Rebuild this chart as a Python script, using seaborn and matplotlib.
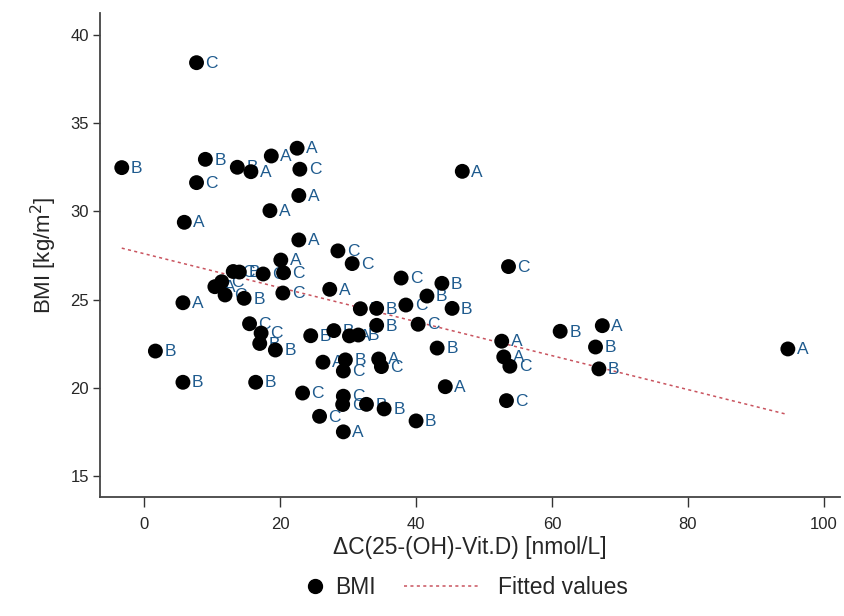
import numpy as np
import pandas as pd
import matplotlib
matplotlib.use("Agg")
import matplotlib.pyplot as plt
from matplotlib.lines import Line2D
import seaborn as sns

# Data
delta_vitd = [-3.3, 7.7, 9.0, 7.7, 13.7, 15.7, 18.7, 22.5, 22.9, 22.75,
              18.5, 5.9, 22.75, 46.8, 28.5, 30.6, 20.1, 13.1, 14.0, 17.5,
              20.5, 10.4, 11.4, 11.9, 14.7, 20.4, 5.7, 27.3, 37.8, 43.8,
              41.6, 45.3, 38.5, 31.8, 34.2, 34.2, 40.3, 43.1, 44.3, 40.0,
              35.3, 32.7, 29.3, 29.2, 25.8, 29.3, 23.3, 16.4, 5.7, 1.65,
              15.5, 17.2, 17.0, 19.3, 24.5, 27.9, 30.2, 31.5, 26.3, 29.6,
              29.3, 34.5, 34.9, 53.6, 52.6, 52.9, 53.8, 53.3, 61.2, 67.4,
              66.4, 66.9, 94.7]
bmi = [32.48, 38.43, 32.95, 31.63, 32.5, 32.25, 33.14, 33.58, 32.39, 30.9,
       30.04, 29.38, 28.38, 32.27, 27.76, 27.04, 27.24, 26.59, 26.56, 26.45,
       26.52, 25.73, 26.01, 25.26, 25.07, 25.37, 24.82, 25.58, 26.22, 25.92,
       25.2, 24.5, 24.69, 24.48, 24.5, 23.54, 23.6, 22.25, 20.06, 18.12,
       18.8, 19.06, 19.52, 19.05, 18.38, 17.5, 19.7, 20.31, 20.31, 22.08,
       23.63, 23.1, 22.51, 22.14, 22.95, 23.24, 22.94, 22.99, 21.45, 21.58,
       20.95, 21.63, 21.2, 26.87, 22.64, 21.75, 21.22, 19.27, 23.2, 23.52,
       22.31, 21.07, 22.2]
group = ["B", "C", "B", "C", "B", "A", "A", "A", "C", "A",
         "A", "A", "A", "A", "C", "C", "A", "C", "B", "C",
         "C", "A", "C", "C", "B", "C", "A", "A", "C", "B",
         "B", "B", "C", "B", "B", "B", "C", "B", "A", "B",
         "B", "B", "C", "C", "C", "A", "C", "B", "B", "B",
         "C", "C", "B", "B", "B", "B", "A", "B", "A", "B",
         "C", "A", "C", "C", "A", "A", "C", "C", "B", "A",
         "B", "B", "A"]

x_ticks = [0, 20, 40, 60, 80, 100]
y_ticks = [15, 20, 25, 30, 35, 40]
x_label = "ΔC(25-(OH)-Vit.D) [nmol/L]"
y_label = "BMI [kg/m$^2$]"
legend_labels = ["BMI", "Fitted values"]

df = pd.DataFrame({"dvitd": delta_vitd, "bmi": bmi, "group": group})

sns.set_theme(style="white")
plt.rcParams["font.family"] = ["Liberation Sans", "DejaVu Sans"]

fig = plt.figure(figsize=(8.44, 6.16), dpi=100)
ax = fig.add_axes([0.1185, 0.193, 0.877, 0.786])

line_color = "#c9545f"
label_color = "#1f5b8e"
dash = (0, (2, 2.2))

sns.regplot(data=df, x="dvitd", y="bmi", scatter=False, ci=None, ax=ax,
            line_kws=dict(color=line_color, lw=1.1, ls=dash, zorder=2))
sns.scatterplot(data=df, x="dvitd", y="bmi", ax=ax, color="black",
                s=115, edgecolor="none", zorder=4, legend=False)

for xv, yv, g in zip(delta_vitd, bmi, group):
    ax.annotate(g, (xv, yv), xytext=(6.5, -0.5), textcoords="offset points",
                ha="left", va="center", fontsize=12.5, color=label_color,
                zorder=3)

ax.set_xlim(-6.5, 102.4)
ax.set_ylim(13.8, 41.25)
ax.set_xticks(x_ticks)
ax.set_yticks(y_ticks)
ax.tick_params(axis="x", length=7, width=1, color="#333333", labelsize=12,
               pad=7, direction="out", bottom=True)
ax.tick_params(axis="y", length=5, width=1, color="#333333", labelsize=12,
               pad=3, direction="out", left=True)

for side in ["top", "right"]:
    ax.spines[side].set_visible(False)
for side in ["left", "bottom"]:
    ax.spines[side].set_color("#444444")
    ax.spines[side].set_linewidth(1.3)

ax.set_xlabel(x_label, fontsize=16.5, labelpad=3)
ax.set_ylabel(y_label, fontsize=16, labelpad=8)

h_marker = [Line2D([], [], marker="o", color="black", ls="none", markersize=10)]
h_line = [Line2D([], [], color=line_color, lw=1.1, ls=dash)]
fig.legend(h_marker, legend_labels[:1], loc="center left",
           bbox_to_anchor=(0.362, 0.047), frameon=False, fontsize=16.5,
           handlelength=0.8, handletextpad=0.5, borderaxespad=0, borderpad=0)
fig.legend(h_line, legend_labels[1:], loc="center left",
           bbox_to_anchor=(0.479, 0.047), frameon=False, fontsize=16.5,
           handlelength=3.3, handletextpad=0.8, borderaxespad=0, borderpad=0)

fig.savefig("out.png", dpi=100, facecolor="white")
